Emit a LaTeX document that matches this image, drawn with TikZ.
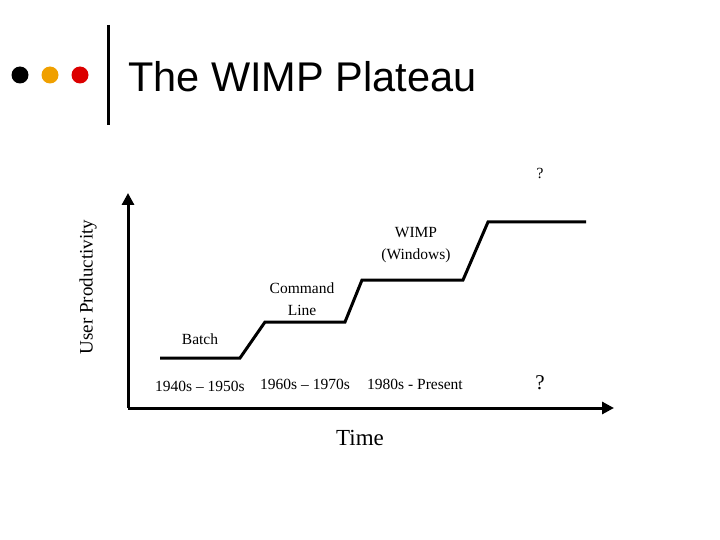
\documentclass[tikz,border=0pt]{standalone}
\usepackage{fontspec}
\setmainfont{Liberation Serif}
\newfontfamily\titlefont{Liberation Sans}
\usetikzlibrary{arrows.meta}
\definecolor{dotorange}{RGB}{240,160,0}
\definecolor{dotred}{RGB}{220,0,0}
\tikzset{
  lbl/.style={inner sep=0pt, font=\fontsize{15.5}{22}\selectfont},
  axis/.style={line width=3pt, -{Triangle[length=12pt,width=12pt]}},
  stair/.style={line width=3pt}
}
\begin{document}
\begin{tikzpicture}[x=1pt,y=-1pt]
  \useasboundingbox (0,0) rectangle (720,540);
  % header
  \fill[black] (20,75) circle (8.5);
  \fill[dotorange] (50,75) circle (8.5);
  \fill[dotred] (80,75) circle (8.5);
  \draw[line width=3pt] (108,25) -- (108,125);
  \node[anchor=west, inner sep=0pt, font=\titlefont\fontsize{41.5}{44}\selectfont] (title) at (128,77) {The WIMP Plateau};
  % axes
  \coordinate (origin) at (128,408);
  \coordinate (ytop) at (128,193);
  \coordinate (xend) at (614,408);
  \draw[axis] (origin) -- (ytop);
  \draw[axis] (origin) -- (xend);
  % staircase
  \draw[stair] (160,358) -- (240,358) -- (265,322) -- (345,322) -- (362,280)
    -- (463,280) -- (488,222) -- (586,222);
  % labels
  \node[lbl, rotate=90] (ylab) at (88,287) {\fontsize{19}{20}\selectfont User Productivity};
  \node[lbl] (q1) at (540,173) {?};
  \node[lbl, align=center] (wimp) at (416,245) {WIMP\\(Windows)};
  \node[lbl, align=center] (cmd) at (302,299) {Command\\Line};
  \node[lbl] (batch) at (200,339) {Batch};
  \node[lbl] (d1) at (200,386) {1940s -- 1950s};
  \node[lbl] (d2) at (305,384) {1960s -- 1970s};
  \node[lbl] (d3) at (415,384) {1980s - Present};
  \node[lbl] (q2) at (540,383) {\fontsize{21}{22}\selectfont ?};
  \node[lbl] (time) at (360,438) {\fontsize{23}{24}\selectfont Time};
\end{tikzpicture}
\end{document}
